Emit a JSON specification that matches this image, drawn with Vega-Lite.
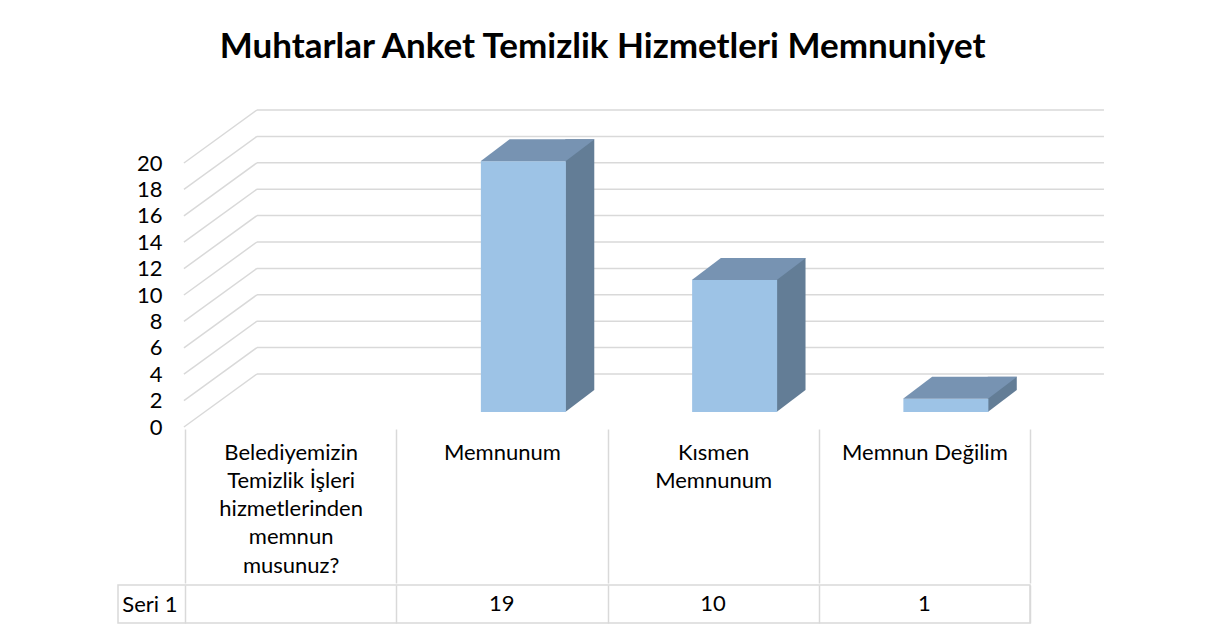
{
  "$schema": "https://vega.github.io/schema/vega-lite/v6.json",
  "background": "white",
  "padding": {"left": 117, "top": 30, "right": 101, "bottom": 20},
  "config": {
    "view": {"stroke": null},
    "font": "Lato",
    "axis": {"labelFont": "Lato", "labelColor": "#000000", "labelFontSize": 22}
  },
  "datasets": {
    "seri": [
      {"kategori": "Memnunum", "seri1": 19},
      {"kategori": "Kısmen Memnunum", "seri1": 10},
      {"kategori": "Memnun Değilim", "seri1": 1}
    ],
    "cizgiler": [
      {"t": 0}, {"t": 2}, {"t": 4}, {"t": 6}, {"t": 8}, {"t": 10},
      {"t": 12}, {"t": 14}, {"t": 16}, {"t": 18}, {"t": 20}
    ]
  },
  "title": {
    "text": "Muhtarlar Anket Temizlik Hizmetleri Memnuniyet",
    "font": "Lato",
    "fontSize": 35,
    "fontWeight": "bold",
    "color": "#000000",
    "anchor": "middle",
    "offset": 44,
    "dx": -9
  },
  "spacing": 0,
  "vconcat": [
    {
      "width": 988,
      "height": 264,
      "resolve": {"axis": {"y": "shared"}},
      "layer": [
        {
          "data": {"name": "cizgiler"},
          "mark": {"type": "rule", "color": "#D9D9D9", "strokeWidth": 1.5, "xOffset": -33.7, "x2Offset": 179.6, "yOffset": -53},
          "encoding": {
            "x": {"datum": "Belediyemizin Temizlik İşleri hizmetlerinden memnun musunuz?", "type": "nominal",
                  "scale": {"type": "band", "domain": ["Belediyemizin Temizlik İşleri hizmetlerinden memnun musunuz?", "Memnunum", "Kısmen Memnunum", "Memnun Değilim"], "range": [67, 912], "paddingInner": 0, "paddingOuter": 0}},
            "x2": {"datum": "Memnun Değilim"},
            "y": {"field": "t", "type": "quantitative",
                  "scale": {"domain": [0, 20], "nice": false, "zero": true},
                  "axis": {"orient": "left", "offset": -44, "domain": false, "ticks": false, "grid": false, "labelPadding": 0, "labelOverlap": false, "values": [0, 2, 4, 6, 8, 10, 12, 14, 16, 18, 20], "tickCount": 11, "title": null, "labelFontSize": 22}}
          }
        },
        {
          "data": {"name": "cizgiler"},
          "mark": {"type": "rule", "color": "#D9D9D9", "strokeWidth": 1.5, "xOffset": -106.7, "x2Offset": -33.7, "y2Offset": -53},
          "encoding": {
            "x": {"datum": "Belediyemizin Temizlik İşleri hizmetlerinden memnun musunuz?", "type": "nominal"},
            "x2": {"datum": "Belediyemizin Temizlik İşleri hizmetlerinden memnun musunuz?"},
            "y": {"field": "t", "type": "quantitative",
                  "axis": {"orient": "left", "offset": -44, "domain": false, "ticks": false, "grid": false, "labelPadding": 0, "labelOverlap": false, "values": [0, 2, 4, 6, 8, 10, 12, 14, 16, 18, 20], "tickCount": 11, "title": null, "labelFontSize": 22}},
            "y2": {"field": "t"}
          }
        },
        {
          "data": {"name": "seri"},
          "mark": {"type": "bar", "color": "#637D96", "width": 29, "xOffset": 77.9, "yOffset": -37},
          "encoding": {
            "x": {"field": "kategori", "type": "nominal"},
            "y": {"field": "seri1", "type": "quantitative",
                  "axis": {"orient": "left", "offset": -44, "domain": false, "ticks": false, "grid": false, "labelPadding": 0, "labelOverlap": false, "values": [0, 2, 4, 6, 8, 10, 12, 14, 16, 18, 20], "tickCount": 11, "title": null, "labelFontSize": 22}}
          }
        },
        {
          "data": {"name": "seri"},
          "mark": {"type": "point", "filled": true, "opacity": 1, "strokeWidth": 0, "color": "#637D96", "size": 841, "shape": "M-1,-0.759L1,-0.759L-1,0.759Z", "xOffset": 77.9, "yOffset": -26},
          "encoding": {
            "x": {"field": "kategori", "type": "nominal"},
            "y": {"datum": 0, "type": "quantitative",
                  "axis": {"orient": "left", "offset": -44, "domain": false, "ticks": false, "grid": false, "labelPadding": 0, "labelOverlap": false, "values": [0, 2, 4, 6, 8, 10, 12, 14, 16, 18, 20], "tickCount": 11, "title": null, "labelFontSize": 22}}
          }
        },
        {
          "data": {"name": "seri"},
          "mark": {"type": "bar", "color": "#9DC3E6", "width": 85, "xOffset": 21.5, "yOffset": -15},
          "encoding": {
            "x": {"field": "kategori", "type": "nominal",
                  "axis": {"orient": "bottom", "offset": 2, "domain": false, "grid": false, "ticks": true, "tickBand": "extent", "tickSize": 154, "tickColor": "#D9D9D9", "tickWidth": 1.5,
                           "labelAlign": "center", "labelBaseline": "top", "labelPadding": -141, "labelLineHeight": 28.3, "labelFontSize": 22, "labelLimit": 0, "labelOverlap": false, "labelAngle": 0, "labelFlush": false, "labelBound": false, "title": null,
                           "labelExpr": "(datum.index > 1.001 || datum.extra) ? '' : datum.value == 'Kısmen Memnunum' ? ['Kısmen', 'Memnunum'] : datum.value == 'Memnunum' ? 'Memnunum' : datum.value == 'Memnun Değilim' ? 'Memnun Değilim' : ['Belediyemizin', 'Temizlik İşleri', 'hizmetlerinden', 'memnun', 'musunuz?']"}},
            "y": {"field": "seri1", "type": "quantitative",
                  "axis": {"orient": "left", "offset": -44, "domain": false, "ticks": false, "grid": false, "labelPadding": 0, "labelOverlap": false, "values": [0, 2, 4, 6, 8, 10, 12, 14, 16, 18, 20], "tickCount": 11, "title": null, "labelFontSize": 22}}
          }
        },
        {
          "data": {"name": "seri"},
          "mark": {"type": "point", "filled": true, "opacity": 1, "strokeWidth": 0, "color": "#7793B2", "size": 12996, "shape": "M-1,0.193L0.49,0.193L1,-0.193L-0.49,-0.193Z", "xOffset": 35.7, "yOffset": -26},
          "encoding": {
            "x": {"field": "kategori", "type": "nominal"},
            "y": {"field": "seri1", "type": "quantitative",
                  "axis": {"orient": "left", "offset": -44, "domain": false, "ticks": false, "grid": false, "labelPadding": 0, "labelOverlap": false, "values": [0, 2, 4, 6, 8, 10, 12, 14, 16, 18, 20], "tickCount": 11, "title": null, "labelFontSize": 22}}
          }
        }
      ]
    },
    {
      "width": 912,
      "height": 38,
      "view": {"stroke": "#D9D9D9", "strokeWidth": 1.5},
      "data": {"name": "seri"},
      "mark": {"type": "text", "font": "Lato", "fontSize": 22, "color": "#000000"},
      "encoding": {
        "x": {"field": "kategori", "type": "nominal",
              "scale": {"type": "band", "domain": ["Belediyemizin Temizlik İşleri hizmetlerinden memnun musunuz?", "Memnunum", "Kısmen Memnunum", "Memnun Değilim"], "range": [67, 912], "paddingInner": 0, "paddingOuter": 0},
              "axis": {"orient": "bottom", "grid": true, "tickBand": "extent", "gridColor": "#D9D9D9", "gridWidth": 1.5, "labels": false, "ticks": false, "domain": false, "title": null}},
        "y": {"datum": "Seri 1", "type": "nominal",
              "axis": {"orient": "left", "offset": -67, "domain": false, "ticks": false, "grid": false, "labelPadding": 8, "title": null, "labelFontSize": 22}},
        "text": {"field": "seri1", "type": "quantitative"}
      }
    }
  ]
}
